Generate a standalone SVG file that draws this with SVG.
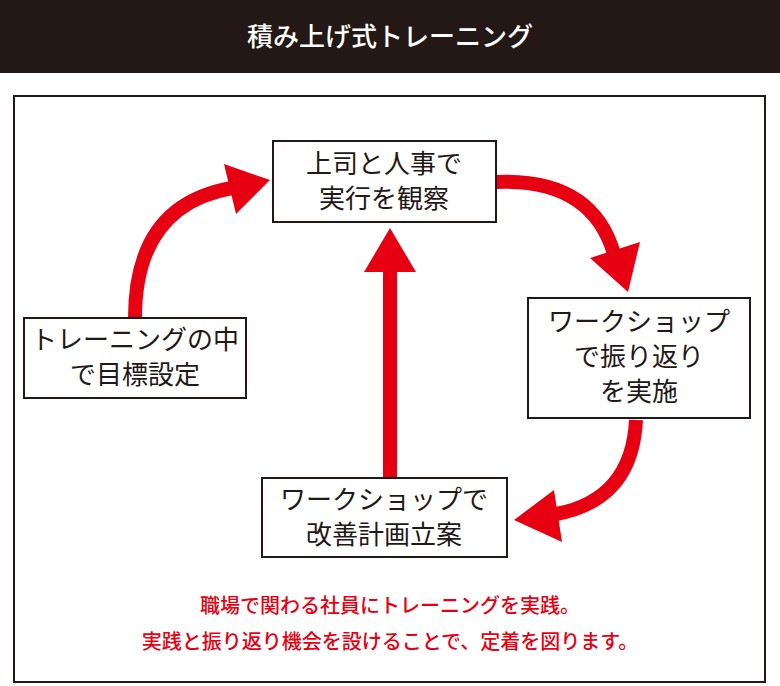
<svg xmlns="http://www.w3.org/2000/svg" width="780" height="686" viewBox="0 0 780 686">
<style>
.t{font-family:"Noto Sans CJK JP","Noto Sans CJK SC",sans-serif;}
.n rect{fill:#fff;stroke:#231815;stroke-width:2}
.n text{font-size:26px;fill:#231815;text-anchor:middle}
.a path{fill:none;stroke:#e60012;stroke-width:14}
.a polygon{fill:#e60012}
</style>
<rect width="780" height="73" fill="#231815"/>
<text class="t" x="390" y="46" font-size="26" font-weight="500" fill="#fff" text-anchor="middle">積み上げ式トレーニング</text>
<rect x="14" y="96" width="751" height="586" fill="#fff" stroke="#231815" stroke-width="2"/>
<g class="a">
<path d="M135,318 Q135,205 232,188"/>
<polygon points="270,180 224,164 236,214"/>
<path d="M496,182 Q592,178 614,254"/>
<polygon points="628,292 590,258 640,242"/>
<path d="M636,420 Q632,500 556,514"/>
<polygon points="514,520 554,490 562,542"/>
<path d="M390,478 V268"/>
<polygon points="390,228 364,272 416,272"/>
</g>
<g id="top" class="n t"><rect x="273" y="141" width="223" height="81"/><text x="384" y="173">上司と人事で</text><text x="384" y="208">実行を観察</text></g>
<g id="right" class="n t"><rect x="528" y="298" width="222" height="120"/><text x="639" y="331">ワークショップ</text><text x="639" y="366">で振り返り</text><text x="639" y="401">を実施</text></g>
<g id="bottom" class="n t"><rect x="262" y="478" width="245" height="79"/><text x="384" y="509">ワークショップで</text><text x="384" y="544">改善計画立案</text></g>
<g id="left" class="n t"><rect x="24" y="318" width="222" height="80"/><text x="135" y="349">トレーニングの中</text><text x="135" y="384">で目標設定</text></g>
<text class="t" x="390" y="613" font-size="20" font-weight="500" fill="#e60012" text-anchor="middle">職場で関わる社員にトレーニングを実践。</text>
<text class="t" x="390" y="649" font-size="20" font-weight="500" fill="#e60012" text-anchor="middle">実践と振り返り機会を設けることで、定着を図ります。</text>
</svg>
